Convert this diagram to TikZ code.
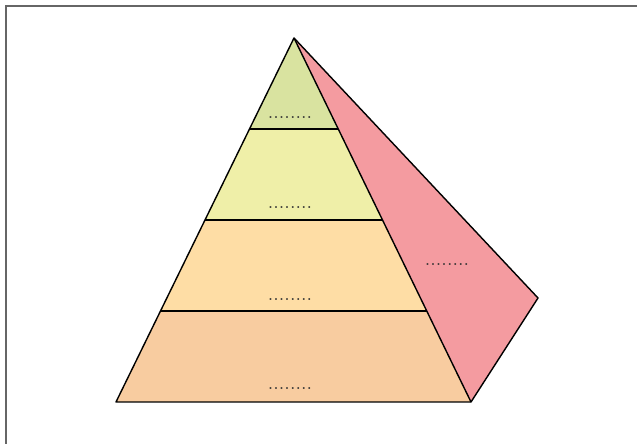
\documentclass[tikz,border=0pt]{standalone}
\usetikzlibrary{calc}
\usepackage{xcolor}

\definecolor{tierTop}{HTML}{D9E3A0}
\definecolor{tierTwo}{HTML}{EFEFA8}
\definecolor{tierThree}{HTML}{FEDDA5}
\definecolor{tierBase}{HTML}{F8CCA0}
\definecolor{sideFace}{HTML}{F49BA0}

\begin{document}
\begin{tikzpicture}[
    x=0.025cm, y=-0.025cm,
    line width=1pt,
    tier line/.style={line width=1.3pt},
    blank label/.style={font=\Large, text=black!80, inner sep=0pt, anchor=base}
]
    \useasboundingbox (0,0) rectangle (637,444);
    % Frame
    \draw[black!60, line width=1.1pt] (6,444) -- (6,6) -- (637,6);

    % Corners
    \coordinate (apex) at (294,38);
    \coordinate (bl) at (116,402);
    \coordinate (br) at (471,402);
    \coordinate (back) at (538,298);
    \coordinate (l1) at ($(apex)!0.25!(bl)$);
    \coordinate (r1) at ($(apex)!0.25!(br)$);
    \coordinate (l2) at ($(apex)!0.5!(bl)$);
    \coordinate (r2) at ($(apex)!0.5!(br)$);
    \coordinate (l3) at ($(apex)!0.75!(bl)$);
    \coordinate (r3) at ($(apex)!0.75!(br)$);

    % Faces
    \fill[sideFace] (apex) -- (back) -- (br) -- cycle;
    \fill[tierTop] (apex) -- (r1) -- (l1) -- cycle;
    \fill[tierTwo] (l1) -- (r1) -- (r2) -- (l2) -- cycle;
    \fill[tierThree] (l2) -- (r2) -- (r3) -- (l3) -- cycle;
    \fill[tierBase] (l3) -- (r3) -- (br) -- (bl) -- cycle;

    % Edges
    \draw[line join=round] (apex) -- (back) -- (br) -- (bl) -- cycle;
    \draw (apex) -- (br);
    \draw[tier line] (l1) -- (r1);
    \draw[tier line] (l2) -- (r2);
    \draw (l3) -- (r3);

    % Labels
    \node[blank label] (t1) at (290,119) {........};
    \node[blank label] (t2) at (290,209) {........};
    \node[blank label] (t3) at (290,301) {........};
    \node[blank label] (t4) at (290,390) {........};
    \node[blank label] (side) at (447,266) {........};
\end{tikzpicture}
\end{document}
